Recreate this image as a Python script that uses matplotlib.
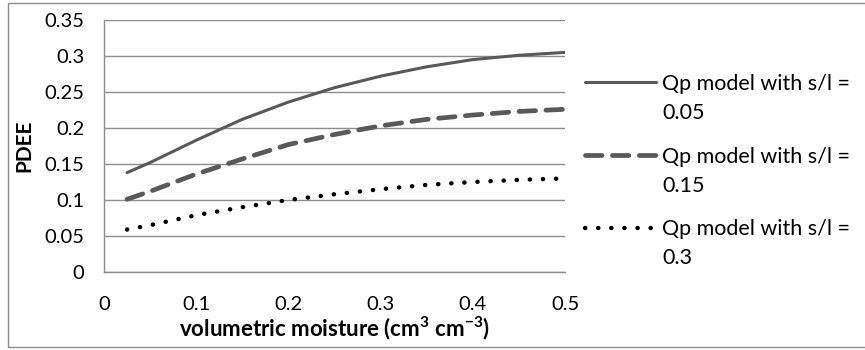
import matplotlib
matplotlib.use("Agg")
import matplotlib.pyplot as plt
from matplotlib.patches import Rectangle

# ---------------------------------------------------------------------------
# Data
# ---------------------------------------------------------------------------
moisture = [0.025, 0.05, 0.1, 0.15, 0.2, 0.25, 0.3, 0.35, 0.4, 0.45, 0.5]
pdee_005 = [0.138, 0.152, 0.183, 0.212, 0.236, 0.256, 0.272, 0.285, 0.295, 0.301, 0.305]
pdee_015 = [0.101, 0.112, 0.136, 0.157, 0.177, 0.191, 0.203, 0.212, 0.218, 0.223, 0.226]
pdee_03  = [0.059, 0.065, 0.079, 0.090, 0.100, 0.108, 0.115, 0.121, 0.125, 0.128, 0.130]

label_head = "Qp model with s/l ="
label_vals = ["0.05", "0.15", "0.3"]
x_ticks = [0, 0.1, 0.2, 0.3, 0.4, 0.5]
y_ticks = [0, 0.05, 0.1, 0.15, 0.2, 0.25, 0.3, 0.35]
x_ticklabels = ["0", "0.1", "0.2", "0.3", "0.4", "0.5"]
y_ticklabels = ["0", "0.05", "0.1", "0.15", "0.2", "0.25", "0.3", "0.35"]

# ---------------------------------------------------------------------------
# Style
# ---------------------------------------------------------------------------
plt.rcParams["font.family"] = ["Lato", "DejaVu Sans"]
plt.rcParams["font.size"] = 14.5
plt.rcParams["mathtext.fontset"] = "custom"
plt.rcParams["mathtext.rm"] = "Lato"
plt.rcParams["mathtext.bf"] = "Lato:bold"
GRID = "#8c8c8c"
DARK = "#595959"
LEG_FS = 15.5

fig = plt.figure(figsize=(8.65, 3.5), dpi=100)
ax = fig.add_axes([104 / 865, 1 - 272 / 350, 461 / 865, 252 / 350])

# outer chart border (right edge falls outside the image)
fig.patches.append(Rectangle((8 / 865, 3 / 350), 1.2, 344 / 350,
                             transform=fig.transFigure, fill=False,
                             edgecolor=GRID, linewidth=1.0))

ax.plot(moisture, pdee_005, color=DARK, lw=2.2, solid_capstyle="round",
        label=label_head)
ax.plot(moisture, pdee_015, color=DARK, lw=3.4, dashes=(3.5, 2.2),
        dash_capstyle="round", label=label_head)
ax.plot(moisture, pdee_03, color="black", lw=3.2, linestyle=(0, (0.05, 2.9)),
        dash_capstyle="round", label=label_head)

ax.set_xlim(0, 0.5)
ax.set_ylim(0, 0.35)
ax.set_xticks(x_ticks)
ax.set_xticklabels(x_ticklabels)
ax.set_yticks(y_ticks)
ax.set_yticklabels(y_ticklabels)
ax.tick_params(axis="x", length=0, pad=17)
ax.tick_params(axis="y", length=0, pad=14)

ax.grid(axis="y", color=GRID, lw=1.0)
ax.set_axisbelow(True)
for s in ["top", "right"]:
    ax.spines[s].set_visible(False)
for s in ["left", "bottom"]:
    ax.spines[s].set_color(GRID)
    ax.spines[s].set_linewidth(1.0)

ax.set_xlabel(r"volumetric moisture (cm$^{\mathbf{3}}$ cm$^{\mathbf{-3}}$)",
              fontweight="bold", fontsize=16)
ax.xaxis.label.set_va("top")
ax.xaxis.set_label_coords(0.5, (272 - 314) / 252)
ax.set_ylabel("PDEE", fontweight="bold", fontsize=15)
ax.yaxis.label.set_va("center")
ax.yaxis.set_label_coords((24 - 104) / 461, 0.5)

# legend: single-line labels, second line of each label added below it
leg = fig.legend(loc="upper left", bbox_to_anchor=(585 / 865, 1 - 74 / 350),
                 frameon=False, borderpad=0, borderaxespad=0, fontsize=LEG_FS,
                 handlelength=3.3, handletextpad=0.3, labelspacing=2.45)
for t, val in zip(leg.get_texts(), label_vals):
    ann = plt.Annotation(val, xy=(0, 0), xycoords=t,
                         xytext=(0, -29), textcoords="offset pixels",
                         ha="left", va="bottom", fontsize=LEG_FS)
    ann.set_zorder(10)
    fig.add_artist(ann)

fig.savefig("out.png", dpi=100)
